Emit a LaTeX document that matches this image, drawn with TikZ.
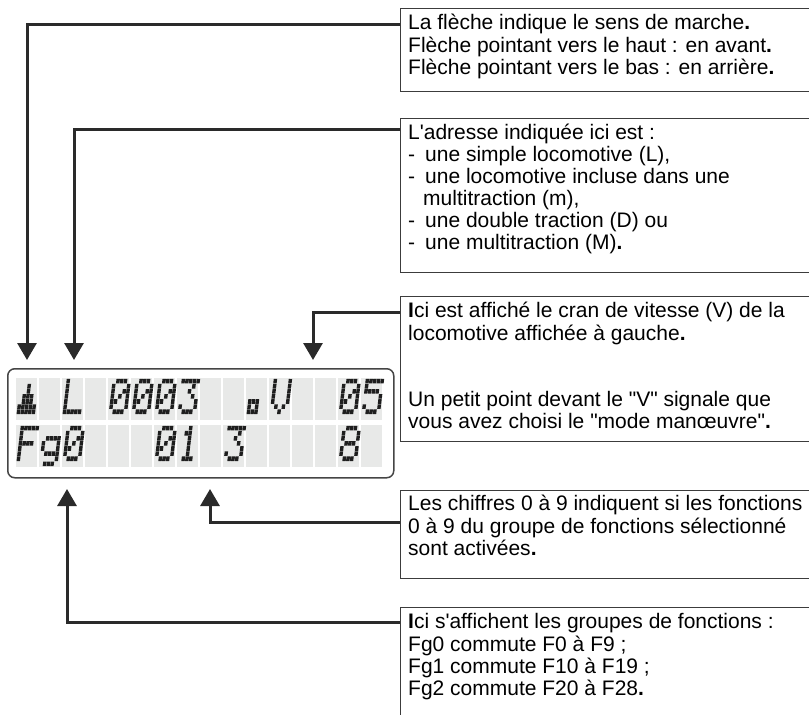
\documentclass[tikz,border=0pt]{standalone}
\usepackage{fontspec}
\newfontfamily\arialf{Liberation Sans}
\usetikzlibrary{arrows.meta}
\definecolor{ink}{HTML}{2A2A2A}
\definecolor{boxline}{HTML}{3C3C3C}
\definecolor{cellgray}{HTML}{E8E9E8}
\definecolor{dotcol}{HTML}{1E1E1E}
\definecolor{lcdline}{HTML}{454545}

% 5x7 dot-matrix glyphs (rows top to bottom)
\def\gArrow{{0,0,0,0,0},{0,0,1,0,0},{0,0,1,0,0},{0,1,1,1,0},{0,1,1,1,0},{1,1,1,1,1},{1,1,1,1,1}}
\def\gL{{1,0,0,0,0},{1,0,0,0,0},{1,0,0,0,0},{1,0,0,0,0},{1,0,0,0,0},{1,0,0,0,0},{1,1,1,1,1}}
\def\gZero{{0,1,1,1,0},{1,0,0,0,1},{1,0,0,1,1},{1,0,1,0,1},{1,1,0,0,1},{1,0,0,0,1},{0,1,1,1,0}}
\def\gOne{{0,0,1,0,0},{0,1,1,0,0},{0,0,1,0,0},{0,0,1,0,0},{0,0,1,0,0},{0,0,1,0,0},{0,1,1,1,0}}
\def\gThree{{1,1,1,1,1},{0,0,0,1,0},{0,0,1,0,0},{0,0,0,1,0},{0,0,0,0,1},{1,0,0,0,1},{0,1,1,1,0}}
\def\gFive{{1,1,1,1,1},{1,0,0,0,0},{1,1,1,1,0},{0,0,0,0,1},{0,0,0,0,1},{1,0,0,0,1},{0,1,1,1,0}}
\def\gEight{{0,1,1,1,0},{1,0,0,0,1},{1,0,0,0,1},{0,1,1,1,0},{1,0,0,0,1},{1,0,0,0,1},{0,1,1,1,0}}
\def\gV{{1,0,0,0,1},{1,0,0,0,1},{1,0,0,0,1},{1,0,0,0,1},{1,0,0,0,1},{0,1,0,1,0},{0,0,1,0,0}}
\def\gF{{1,1,1,1,1},{1,0,0,0,0},{1,0,0,0,0},{1,1,1,1,0},{1,0,0,0,0},{1,0,0,0,0},{1,0,0,0,0}}
\def\gg{{0,0,0,0,0},{0,0,0,0,0},{0,1,1,1,1},{1,0,0,0,1},{1,0,0,0,1},{0,1,1,1,1},{0,0,0,0,1},{0,1,1,1,0}}
\def\gDot{{0,0,0,0,0},{0,0,0,0,0},{0,0,0,0,0},{0,0,0,0,0},{1,1,1,0,0},{1,0,1,0,0},{1,1,1,0,0}}

\newcommand\lcdglyph[3]{%
  \begin{scope}[shift={(16.5+23*#1, 378+47*#2+36.5)}, xslant=0.12]
    \foreach \lcdrow [count=\lcdr from 0] in #3 {
      \foreach \lcdb [count=\lcdc from 0] in \lcdrow {
        \ifnum\lcdb=1\relax
          \fill[dotcol] (\lcdc*3.75, \lcdr*5.1-35.7) rectangle ++(3.4,4.6);
        \fi
      }
    }
  \end{scope}}

\begin{document}
\begin{tikzpicture}[x=1pt,y=-1pt,
  box/.style={draw=boxline, line width=1.4, anchor=north west, minimum width=440, inner sep=0},
  txt/.style={font=\arialf\fontsize{21}{22}\selectfont, align=left, inner sep=0, anchor=north west, text=black},
  conn/.style={draw=ink, line width=3, -{Triangle[width=19pt,length=17pt]}},
  lcd/.style={draw=lcdline, line width=1.5, rounded corners=7, fill=white, anchor=north west, inner sep=0}]
\useasboundingbox (0,0) rectangle (809,715);
\clip (0,0) rectangle (809,715);

% ---------------- text boxes ----------------
\node[box, minimum height=83] (b1) at (400,8) {};
\node[txt] (x1) at ([xshift=8,yshift=-6]b1.north west) {\strut La flèche indique le sens de marche\textbf{.}\\
Flèche pointant vers le haut : en avant\textbf{.}\\
Flèche pointant vers le bas : en arrière\textbf{.}};

\node[box, minimum height=154] (b2) at (400,118) {};
\node[txt] (x2) at ([xshift=8,yshift=-6]b2.north west) {\strut L'adresse indiquée ici est :\\
\makebox[17pt][l]{-}une simple locomotive (L),\\
\makebox[17pt][l]{-}une locomotive incluse dans une\\
\hspace*{15pt}multitraction (m),\\
\makebox[17pt][l]{-}une double traction (D) ou\\
\makebox[17pt][l]{-}une multitraction (M)\textbf{.}};

\node[box, minimum height=145] (b3) at (400,296) {};
\node[txt] (x3) at ([xshift=8,yshift=-6]b3.north west) {\strut\textbf{I}ci est affiché le cran de vitesse (V) de la\\
locomotive affichée à gauche\textbf{.}\\[44pt]
Un petit point devant le "V" signale que\\
vous avez choisi le "mode manœuvre"\textbf{.}};

\node[box, minimum height=88] (b4) at (400,490) {};
\node[txt] (x4) at ([xshift=8,yshift=-5]b4.north west) {\strut Les chiffres 0 à 9 indiquent si les fonctions\\
0 à 9 du groupe de fonctions sélectionné\\
sont activées\textbf{.}};

\node[box, minimum height=150] (b5) at (400,607) {};
\node[txt] (x5) at ([xshift=8,yshift=-6]b5.north west) {\strut\textbf{I}ci s'affichent les groupes de fonctions :\\
Fg0 commute F0 à F9 ;\\
Fg1 commute F10 à F19 ;\\
Fg2 commute F20 à F28\textbf{.}};

% ---------------- LCD display ----------------
\node[lcd, minimum width=386, minimum height=109] (lcd) at (7,368) {};
\foreach \i in {0,...,15} {
  \foreach \j in {0,1} {
    \fill[cellgray] (15.5+23*\i, 378+47*\j) rectangle ++(21.5,42);
  }
}
% row 1 :  ^ L 0003 .V 05
\lcdglyph{0}{0}{\gArrow}
\lcdglyph{2}{0}{\gL}
\lcdglyph{4}{0}{\gZero}
\lcdglyph{5}{0}{\gZero}
\lcdglyph{6}{0}{\gZero}
\lcdglyph{7}{0}{\gThree}
\lcdglyph{10}{0}{\gDot}
\lcdglyph{11}{0}{\gV}
\lcdglyph{14}{0}{\gZero}
\lcdglyph{15}{0}{\gFive}
% row 2 :  Fg0   01 3    8
\lcdglyph{0}{1}{\gF}
\lcdglyph{1}{1}{\gg}
\lcdglyph{2}{1}{\gZero}
\lcdglyph{6}{1}{\gZero}
\lcdglyph{7}{1}{\gOne}
\lcdglyph{9}{1}{\gThree}
\lcdglyph{14}{1}{\gEight}

% ---------------- arrow tips ----------------
\coordinate (tA) at (27,360);
\coordinate (tB) at (74,360);
\coordinate (tC) at (313,360);
\coordinate (tD) at (210,489);
\coordinate (tE) at (67,489);

% ---------------- connectors ----------------
\draw[conn] (b1.north west) ++(0,16) -| (tA);
\draw[conn] (b2.north west) ++(0,11) -| (tB);
\draw[conn] (b3.north west) ++(0,16) -| (tC);
\draw[conn] (b4.north west) ++(0,32) -| (tD);
\draw[conn] (b5.north west) ++(0,15) -| (tE);
\end{tikzpicture}
\end{document}
